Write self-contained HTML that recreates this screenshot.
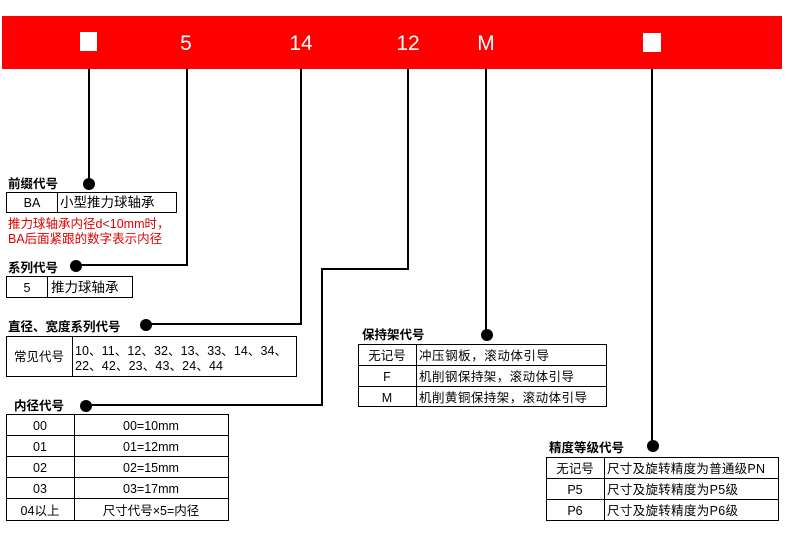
<!DOCTYPE html>
<html><head><meta charset="utf-8"><style>
body{margin:0;background:#fff}
svg{display:block}
text{font-family:"Liberation Sans","Noto Sans CJK SC",sans-serif;font-size:12.5px;fill:#000}
.b{font-weight:bold;font-size:12.5px}
.w{fill:#fff;font-size:21px}
.r{fill:#e00000}
</style></head><body>
<svg width="790" height="541" viewBox="0 0 790 541">
<rect x="2" y="16" width="780" height="53" fill="#ff0000"/>
<rect x="80" y="32" width="17" height="19" fill="#fff"/>
<rect x="643" y="33" width="18" height="19" fill="#fff"/>
<text class="w" x="186" y="50" text-anchor="middle">5</text>
<text class="w" x="301" y="50" text-anchor="middle">14</text>
<text class="w" x="408" y="50" text-anchor="middle">12</text>
<text class="w" x="486" y="50" text-anchor="middle">M</text>
<g stroke="#000" stroke-width="2" fill="none">
<path d="M89 69V183"/>
<path d="M187 69V265H78"/>
<path d="M301 69V324H148"/>
<path d="M408 69V269H322V405H88"/>
<path d="M486 69V334"/>
<path d="M652 69V445"/>
</g>
<g fill="#000">
<circle cx="89" cy="184" r="6"/><circle cx="76" cy="266" r="6"/>
<circle cx="146" cy="325" r="6"/><circle cx="86" cy="406" r="6"/>
<circle cx="487" cy="335" r="6"/><circle cx="653" cy="446" r="6"/>
</g>
<g fill="none" stroke="#000" stroke-width="1">
<rect x="6.5" y="192.5" width="170" height="20"/><path d="M57.5 192V213"/>
<rect x="6.5" y="276.5" width="126" height="21"/><path d="M47.5 276V298"/>
<rect x="6.5" y="336.5" width="290" height="40"/><path d="M72.5 336V377"/>
<rect x="6.5" y="414.5" width="222" height="106"/><path d="M74.5 414V521M6 435.5H229M6 456.5H229M6 477.5H229M6 498.5H229"/>
<rect x="358.5" y="344.5" width="248" height="62"/><path d="M416.5 344V407M358 365.5H607M358 386.5H607"/>
<rect x="546.5" y="457.5" width="232" height="63"/><path d="M604.5 457V521M546 478.5H779M546 499.5H779"/>
</g>
<text class="b" x="8" y="188">前缀代号</text>
<text x="32" y="207" text-anchor="middle">BA</text><text x="60" y="207" style="font-size:13.5px">小型推力球轴承</text>
<text class="r" x="8" y="228">推力球轴承内径d&lt;10mm时，</text>
<text class="r" x="8" y="243">BA后面紧跟的数字表示内径</text>
<text class="b" x="8" y="272">系列代号</text>
<text x="27" y="292" text-anchor="middle">5</text><text x="51" y="292" style="font-size:13.5px">推力球轴承</text>
<text class="b" x="8" y="331">直径、宽度系列代号</text>
<text x="39" y="361" text-anchor="middle">常见代号</text>
<text x="75" y="355" textLength="212">10、11、12、32、13、33、14、34、</text>
<text x="75" y="370" textLength="148">22、42、23、43、24、44</text>
<text class="b" x="14" y="410">内径代号</text>
<text x="40" y="430" text-anchor="middle">00</text><text x="151" y="430" text-anchor="middle">00=10mm</text>
<text x="40" y="451" text-anchor="middle">01</text><text x="151" y="451" text-anchor="middle">01=12mm</text>
<text x="40" y="472" text-anchor="middle">02</text><text x="151" y="472" text-anchor="middle">02=15mm</text>
<text x="40" y="493" text-anchor="middle">03</text><text x="151" y="493" text-anchor="middle">03=17mm</text>
<text x="40" y="515" text-anchor="middle">04以上</text><text x="151" y="515" text-anchor="middle">尺寸代号×5=内径</text>
<text class="b" x="362" y="339">保持架代号</text>
<text x="387" y="360" text-anchor="middle">无记号</text><text x="419" y="360" textLength="130">冲压钢板，滚动体引导</text>
<text x="387" y="381" text-anchor="middle">F</text><text x="419" y="381" textLength="155">机削钢保持架，滚动体引导</text>
<text x="387" y="402" text-anchor="middle">M</text><text x="419" y="402" textLength="168">机削黄铜保持架，滚动体引导</text>
<text class="b" x="549" y="452">精度等级代号</text>
<text x="575" y="473" text-anchor="middle">无记号</text><text x="607" y="473" textLength="158">尺寸及旋转精度为普通级PN</text>
<text x="575" y="494" text-anchor="middle">P5</text><text x="607" y="494" textLength="131">尺寸及旋转精度为P5级</text>
<text x="575" y="515" text-anchor="middle">P6</text><text x="607" y="515" textLength="131">尺寸及旋转精度为P6级</text>
</svg>
</body></html>
